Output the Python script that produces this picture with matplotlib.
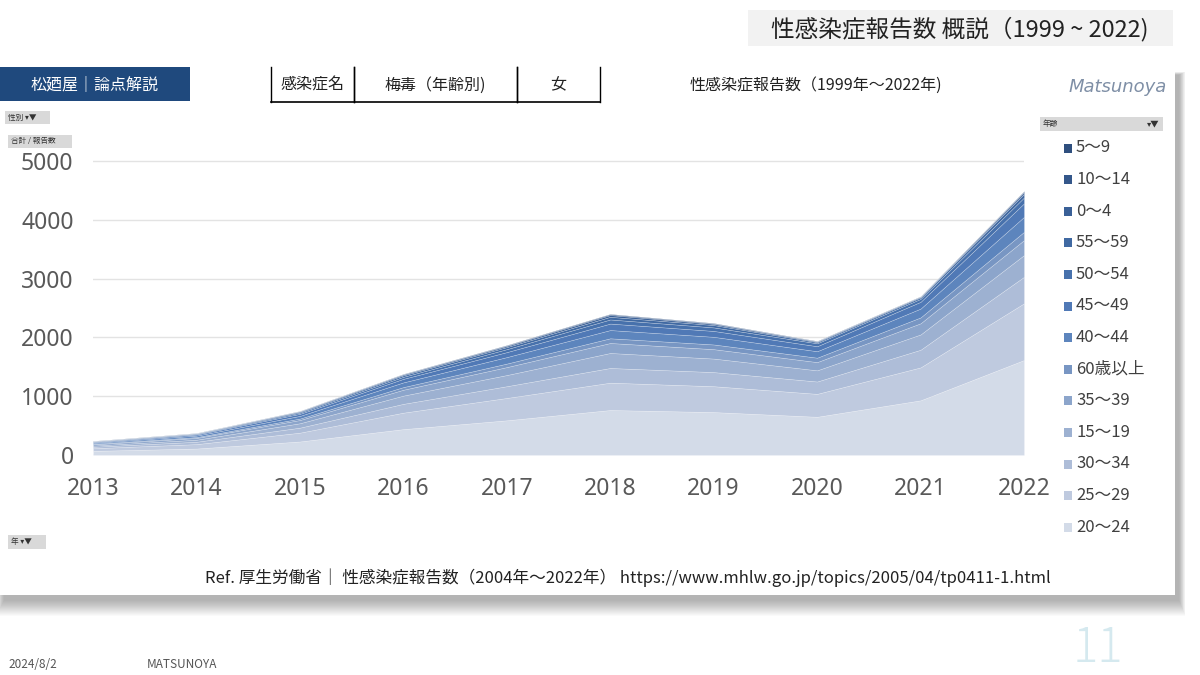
import matplotlib
matplotlib.use("Agg")
import matplotlib.pyplot as plt
from matplotlib.patches import Rectangle

plt.rcParams['font.family'] = ['Noto Sans CJK JP', 'DejaVu Sans']

# ---------------- data ----------------
years = [2013, 2014, 2015, 2016, 2017, 2018, 2019, 2020, 2021, 2022]

# stacked bottom -> top
age_20_24 = [70, 110, 230, 440, 590, 765, 730, 650, 930, 1615]
age_25_29 = [45, 75, 150, 280, 380, 465, 440, 390, 560, 965]
age_30_34 = [25, 40, 85, 150, 200, 250, 240, 210, 300, 450]
age_15_19 = [20, 35, 75, 140, 190, 255, 230, 190, 260, 370]
age_35_39 = [20, 30, 55, 100, 135, 170, 160, 140, 190, 255]
age_60_up = [10, 15, 25, 45, 60, 80, 80, 75, 100, 140]
age_40_44 = [15, 25, 45, 80, 110, 140, 130, 110, 150, 255]
age_45_49 = [12, 18, 35, 60, 85, 110, 100, 85, 115, 230]
age_50_54 = [8, 10, 20, 35, 50, 70, 60, 50, 50, 100]
age_55_59 = [6, 8, 15, 25, 35, 45, 40, 20, 25, 60]
age_0_4 = [5, 6, 10, 15, 20, 30, 20, 12, 12, 30]
age_10_14 = [3, 2, 4, 8, 10, 15, 10, 5, 6, 15]
age_5_9 = [1, 1, 1, 2, 5, 5, 5, 3, 2, 5]

series = [age_20_24, age_25_29, age_30_34, age_15_19, age_35_39, age_60_up,
          age_40_44, age_45_49, age_50_54, age_55_59, age_0_4, age_10_14, age_5_9]
series_labels = ["20～24", "25～29", "30～34", "15～19", "35～39", "60歳以上",
                 "40～44", "45～49", "50～54", "55～59", "0～4", "10～14", "5～9"]
colors = ["#D3DBE8", "#BFCADF", "#AEBDD8", "#9DB1D1", "#8CA5CB", "#7896C3",
          "#5D85BD", "#5079B6", "#4771AC", "#4069A2", "#3A6097", "#34578A", "#2F4F7E"]

yticks = [0, 1000, 2000, 3000, 4000, 5000]

W, H = 1200, 675
fig = plt.figure(figsize=(12, 6.75), dpi=100)
fig.patch.set_facecolor("white")

# background canvas in pixel coords
bg = fig.add_axes([0, 0, 1, 1], zorder=0)
bg.set_xlim(0, W)
bg.set_ylim(H, 0)
bg.axis("off")

# soft shadow of main panel
for i in range(16):
    grow = 16 - i
    bg.add_patch(Rectangle((4 - grow * 0.5, 75 - grow * 0.2), 1175 + grow * 0.9, 525 + grow * 1.2,
                           facecolor="#000000", alpha=0.02, edgecolor="none", zorder=1))
bg.add_patch(Rectangle((0, 67), 1175, 528, facecolor="white", edgecolor="none", zorder=2))

# title box top-right
bg.add_patch(Rectangle((748, 10), 425, 36, facecolor="#F2F2F2", edgecolor="none", zorder=2))
bg.text(960, 29, "性感染症報告数 概説（1999 ~ 2022)", fontsize=17, color="#222222",
        ha="center", va="center", zorder=3)

# header dark box
bg.add_patch(Rectangle((0, 67), 190, 34, facecolor="#1F497D", edgecolor="none", zorder=3))
bg.text(95, 85, "松廼屋｜論点解説", fontsize=11.5, color="white", ha="center", va="center", zorder=4)

# header table
cells = [(271, 354, "感染症名"), (354, 517, "梅毒（年齢別)"), (517, 600, "女")]
for x0, x1, t in cells:
    bg.plot([x0, x0], [67, 102], color="black", lw=1, zorder=4)
    bg.plot([x1, x1], [67, 102], color="black", lw=1, zorder=4)
    bg.text((x0 + x1) / 2, 85, t, fontsize=11.5, color="#222222", ha="center", va="center", zorder=4)
bg.plot([271, 600], [102, 102], color="black", lw=1.2, zorder=4)

bg.text(816, 85, "性感染症報告数（1999年～2022年)", fontsize=11.5, color="#222222",
        ha="center", va="center", zorder=4)
bg.text(1118, 87, "Matsunoya", fontsize=13, color="#7F8FA6", ha="center", va="center",
        style="italic", family=["DejaVu Sans"], fontweight="light", zorder=4)

# small filter buttons
def button(x, y, w, h, text, fs=5.5):
    bg.add_patch(Rectangle((x, y), w, h, facecolor="#D9D9D9", edgecolor="none", zorder=4))
    bg.text(x + 3, y + h / 2, text, fontsize=fs, color="#333333", ha="left", va="center", zorder=5)

button(5, 111, 45, 13, "性別 ▾▼")
button(8, 135, 64, 13, "合計 / 報告数")
button(1040, 117, 123, 14, "年齢")
bg.text(1160, 124, "▾▼", fontsize=6, color="#333333", ha="right", va="center", zorder=5)
button(8, 535, 38, 14, "年 ▾▼")

# legend (top -> bottom is reverse of stacking)
leg_y0, leg_dy = 148, 31.6
for i, (lab, col) in enumerate(zip(series_labels[::-1], colors[::-1])):
    y = leg_y0 + i * leg_dy
    bg.add_patch(Rectangle((1064, y - 4.5), 8, 9, facecolor=col, edgecolor="none", zorder=4))
    bg.text(1076, y, lab, fontsize=12, color="#404040", ha="left", va="center", zorder=4)

# footer
bg.text(628, 578, "Ref. 厚生労働省｜ 性感染症報告数（2004年～2022年） https://www.mhlw.go.jp/topics/2005/04/tp0411-1.html",
        fontsize=12, color="#222222", ha="center", va="center", zorder=4)
bg.text(8, 664, "2024/8/2", fontsize=8.5, color="#555555", ha="left", va="center", zorder=4)
bg.text(147, 664, "MATSUNOYA", fontsize=8.5, color="#555555", ha="left", va="center", zorder=4)
bg.text(1098, 648, "11", fontsize=34, color="#D5E9EF", ha="center", va="center",
        fontweight="light", zorder=4)

# ---------------- main chart ----------------
ymax = 5050
px_per_unit = (455 - 161) / 5000
ax_left, ax_right = 93, 1024
ax_bottom = 455
ax_top = ax_bottom - ymax * px_per_unit
ax = fig.add_axes([ax_left / W, 1 - ax_bottom / H, (ax_right - ax_left) / W, (ax_bottom - ax_top) / H],
                  zorder=5)
ax.patch.set_alpha(0)
polys = ax.stackplot(years, *series, colors=colors, labels=series_labels)
for p in polys:
    p.set_edgecolor((1, 1, 1, 0.35))
    p.set_linewidth(0.4)
ax.set_xlim(years[0], years[-1])
ax.set_ylim(0, ymax)
ax.set_yticks(yticks)
ax.set_xticks(years)
ax.set_xticklabels([str(y) for y in years])
ax.grid(axis="y", color="#E3E3E3", lw=1)
ax.set_axisbelow(True)
for s in ax.spines.values():
    s.set_visible(False)
ax.tick_params(length=0, labelsize=16.5, labelcolor="#595959")
ax.tick_params(axis="x", pad=16)
ax.tick_params(axis="y", pad=14)
for lab in ax.get_xticklabels() + ax.get_yticklabels():
    lab.set_family(["Noto Sans", "DejaVu Sans"])

fig.savefig("out.png", dpi=100)
